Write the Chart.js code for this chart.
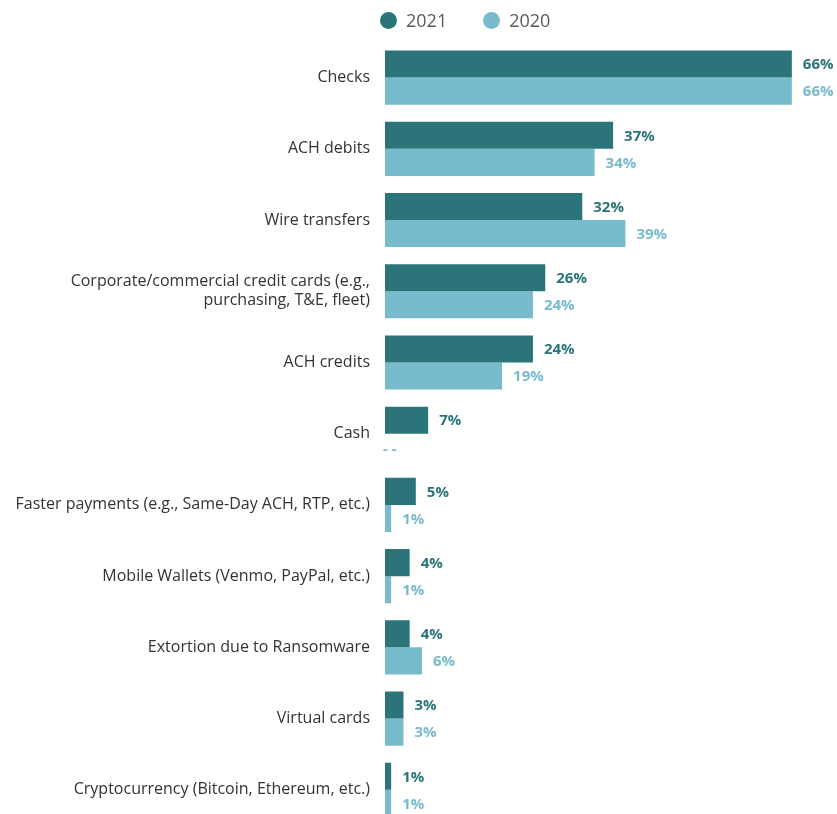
<!DOCTYPE html>
<html>
<head>
<meta charset="utf-8">
<script src="https://cdn.jsdelivr.net/npm/chart.js@4"></script>
<style>
  html, body { margin: 0; padding: 0; background: #fff; overflow: hidden; }
  #wrap { position: relative; width: 837px; height: 842px; }
  #legend {
    position: absolute; top: 8px; left: 380px;
    font-family: "Open Sans", sans-serif; font-size: 18px; color: #5a5a5a;
    display: flex;
  }
  .leg-item { display: flex; align-items: center; margin-right: 36px; }
  .leg-dot { width: 17px; height: 17px; border-radius: 50%; margin-right: 9px; }
</style>
</head>
<body>
<div id="wrap">
  <div id="legend"></div>
  <canvas id="grafico" width="837" height="842"></canvas>
</div>
<script>
// Categorias (eixo vertical)
const categorias = [
  'Checks',
  'ACH debits',
  'Wire transfers',
  ['Corporate/commercial credit cards (e.g.,', 'purchasing, T&E, fleet)'],
  'ACH credits',
  'Cash',
  'Faster payments (e.g., Same-Day ACH, RTP, etc.)',
  'Mobile Wallets (Venmo, PayPal, etc.)',
  'Extortion due to Ransomware',
  'Virtual cards',
  'Cryptocurrency (Bitcoin, Ethereum, etc.)'
];

// Valores por série (%)
const serie2021 = [66, 37, 32, 26, 24, 7, 5, 4, 4, 3, 1];
const serie2020 = [66, 34, 39, 24, 19, null, 1, 1, 6, 3, 1];

const nomesSeries = ['2021', '2020'];
const cores = ['#2b7479', '#77bbcc'];

// Legenda em HTML
const legenda = document.getElementById('legend');
nomesSeries.forEach((nome, i) => {
  const item = document.createElement('div');
  item.className = 'leg-item';
  item.innerHTML = `<span class="leg-dot" style="background:${cores[i]}"></span><span>${nome}</span>`;
  legenda.appendChild(item);
});

// Rótulos de valor ao lado das barras
const rotulosValor = {
  id: 'rotulosValor',
  afterDatasetsDraw(chart) {
    const ctx = chart.ctx;
    ctx.save();
    ctx.font = 'bold 15px "Open Sans", sans-serif';
    ctx.textBaseline = 'middle';
    ctx.textAlign = 'left';
    chart.data.datasets.forEach((ds, i) => {
      const meta = chart.getDatasetMeta(i);
      ctx.fillStyle = cores[i];
      meta.data.forEach((bar, j) => {
        const v = ds.data[j];
        const xBase = chart.scales.x.getPixelForValue(0);
        const y = bar.y + 1;
        if (v === null || v === undefined) {
          ctx.fillText('- -', xBase - 2, y + 2);
        } else {
          ctx.fillText(v + '%', bar.x + 11, y);
        }
      });
    });
    ctx.restore();
  }
};

new Chart(document.getElementById('grafico'), {
  type: 'bar',
  data: {
    labels: categorias,
    datasets: [
      { label: nomesSeries[0], data: serie2021, backgroundColor: cores[0] },
      { label: nomesSeries[1], data: serie2020, backgroundColor: cores[1] }
    ]
  },
  options: {
    indexAxis: 'y',
    responsive: false,
    animation: false,
    layout: { padding: { top: 42, bottom: 5, left: 0, right: 2 } },
    datasets: { bar: { categoryPercentage: 0.76, barPercentage: 1.0 } },
    plugins: {
      legend: { display: false },
      tooltip: { enabled: false }
    },
    scales: {
      x: { display: false, min: 0, max: 73 },
      y: {
        grid: { display: false },
        border: { display: false },
        afterFit(scale) { scale.width = 385; },
        ticks: {
          padding: 7,
          color: '#333',
          font: { family: '"Open Sans", sans-serif', size: 16 }
        }
      }
    }
  },
  plugins: [rotulosValor]
});
</script>
</body>
</html>
